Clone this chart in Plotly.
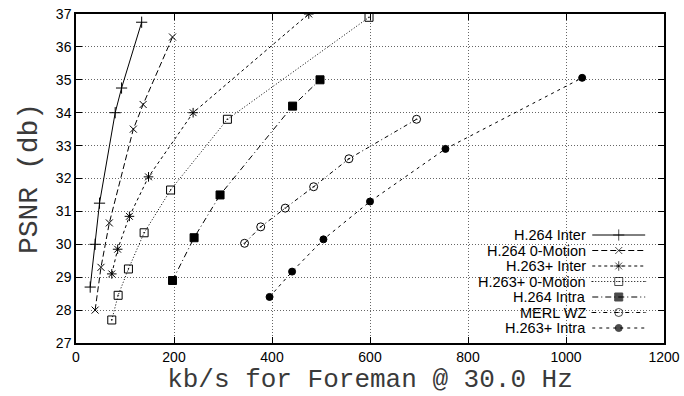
import plotly.graph_objects as go

# ---- data ----
series_names = ["H.264 Inter", "H.264 0-Motion", "H.263+ Inter", "H.263+ 0-Motion",
                "H.264 Intra", "MERL WZ", "H.263+ Intra"]

h264_inter_x = [29, 39, 48, 80, 93, 134]
h264_inter_y = [28.7, 30.0, 31.25, 34.0, 34.75, 36.75]

h264_0m_x = [39, 51, 68, 117, 137, 197]
h264_0m_y = [28.0, 29.3, 30.65, 33.5, 34.25, 36.3]

h263_inter_x = [73, 85, 109, 148, 239, 475]
h263_inter_y = [29.1, 29.85, 30.85, 32.05, 34.0, 37.0]

h263_0m_x = [73, 86, 107, 139, 193, 309, 598]
h263_0m_y = [27.7, 28.45, 29.25, 30.35, 31.65, 33.8, 36.9]

h264_intra_x = [197, 241, 294, 442, 498]
h264_intra_y = [28.9, 30.2, 31.5, 34.2, 35.0]

merl_wz_x = [344, 377, 427, 485, 557, 695]
merl_wz_y = [30.03, 30.53, 31.1, 31.75, 32.6, 33.8]

h263_intra_x = [395, 441, 505, 600, 754, 1033]
h263_intra_y = [28.4, 29.17, 30.15, 31.3, 32.9, 35.06]

x_ticks = [0, 200, 400, 600, 800, 1000, 1200]
y_ticks = [27, 28, 29, 30, 31, 32, 33, 34, 35, 36, 37]

# ---- styles ----
xs = [h264_inter_x, h264_0m_x, h263_inter_x, h263_0m_x, h264_intra_x, merl_wz_x, h263_intra_x]
ys = [h264_inter_y, h264_0m_y, h263_inter_y, h263_0m_y, h264_intra_y, merl_wz_y, h263_intra_y]
dashes = ["solid", "6px,3px", "3px,3px", "1px,2px", "6px,3px,1px,3px", "4px,3px,1px,3px", "3px,4px"]
symbols = ["cross-thin-open", "x-thin-open", "asterisk-open", "square-open-dot",
           "square", "circle-open-dot", "circle"]
msizes = [8, 7, 8, 8, 8, 8, 7]

fig = go.Figure()
for name, x, y, d, s, ms in zip(series_names, xs, ys, dashes, symbols, msizes):
    fig.add_trace(go.Scatter(
        x=x, y=y, mode="lines+markers", name=name, showlegend=False,
        line=dict(color="black", width=1, dash=d),
        marker=dict(symbol=s, size=ms, color="black",
                    line=dict(color="black", width=1)),
    ))

# ---- gnuplot-style key (text left, sample right) on an overlay axis ----
key_text_x = 0.871
key_x0, key_x1 = 0.878, 0.968
key_top_px, key_step_px = 235, 15.5
plot_h = 329
for i, (name, d, s, ms) in enumerate(zip(series_names, dashes, symbols, msizes)):
    yp = (343 - (key_top_px + key_step_px * i)) / plot_h
    fig.add_trace(go.Scatter(
        x=[key_x0, (key_x0 + key_x1) / 2, key_x1], y=[yp, yp, yp],
        xaxis="x2", yaxis="y2", mode="lines+markers", showlegend=False,
        hoverinfo="skip",
        line=dict(color="black", width=1, dash=d),
        marker=dict(symbol=s, size=[0, ms, 0], color="black",
                    line=dict(color="black", width=1)),
    ))
    fig.add_annotation(x=key_text_x, y=yp, xref="paper", yref="paper",
                       text=name, showarrow=False, xanchor="right", yanchor="middle",
                       font=dict(family="Liberation Sans, Arial", size=14.5, color="black"))

# white box behind key (hides grid)
fig.add_shape(type="rect", xref="paper", yref="paper", x0=0.64, x1=0.997, y0=0.003, y1=0.35,
              fillcolor="white", line=dict(width=0), layer="below")

axis_common = dict(
    showline=True, linecolor="black", linewidth=1.5, mirror="allticks",
    ticks="inside", ticklen=6, tickcolor="black", tickwidth=1,
    showgrid=True, gridcolor="#666", griddash="1px,2px", gridwidth=1,
    zeroline=False, automargin=False,
    tickfont=dict(family="Liberation Sans, Arial", size=14, color="black"),
)

fig.update_layout(
    width=684, height=396,
    margin=dict(l=76, r=20, t=14, b=53, autoexpand=False),
    plot_bgcolor="white", paper_bgcolor="white",
    xaxis=dict(range=[0, 1200], tickvals=x_ticks,
               title=dict(text="kb/s for Foreman @ 30.0 Hz", standoff=0,
                          font=dict(family="Liberation Mono, Courier New", size=26, color="#3a3a3a")),
               **axis_common),
    yaxis=dict(range=[27, 37], tickvals=y_ticks,
               title=dict(text="PSNR (db)", standoff=10,
                          font=dict(family="Liberation Mono, Courier New", size=28, color="#3a3a3a")),
               **axis_common),
    xaxis2=dict(range=[0, 1], overlaying="x", visible=False, fixedrange=True),
    yaxis2=dict(range=[0, 1], overlaying="y", visible=False, fixedrange=True),
    showlegend=False,
)

fig.write_html("out.html", config={"displayModeBar": False},
               post_script="document.body.style.margin='0';document.body.style.overflow='hidden';")
